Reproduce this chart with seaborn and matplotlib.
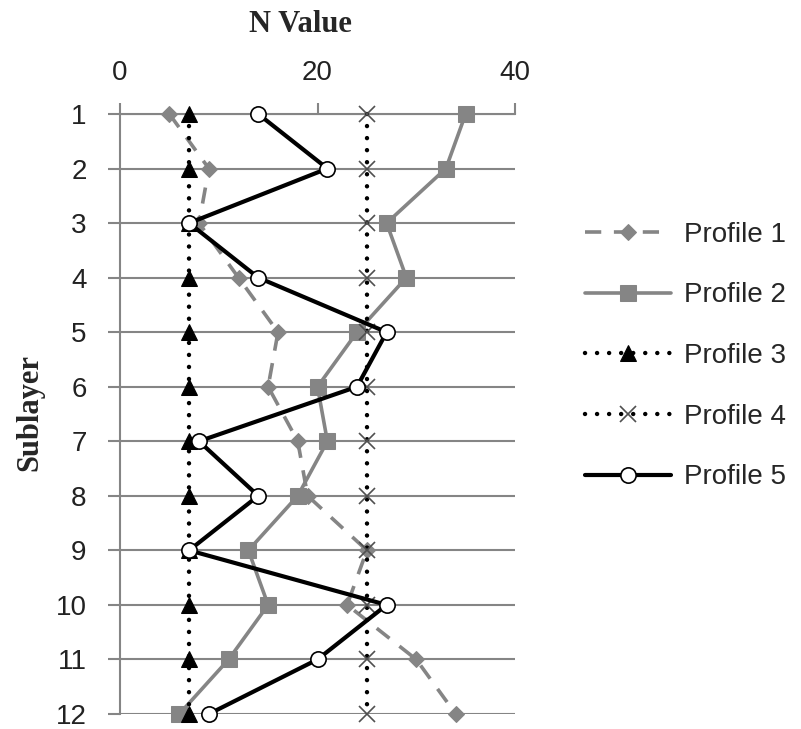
import matplotlib
matplotlib.use("Agg")
import matplotlib.pyplot as plt
import seaborn as sns

sublayers = [1, 2, 3, 4, 5, 6, 7, 8, 9, 10, 11, 12]
profile_1 = [5, 9, 8, 12, 16, 15, 18, 19, 25, 23, 30, 34]
profile_2 = [35, 33, 27, 29, 24, 20, 21, 18, 13, 15, 11, 6]
profile_3 = [7, 7, 7, 7, 7, 7, 7, 7, 7, 7, 7, 7]
profile_4 = [25, 25, 25, 25, 25, 25, 25, 25, 25, 25, 25, 25]
profile_5 = [14, 21, 7, 14, 27, 24, 8, 14, 7, 27, 20, 9]
labels = ["Profile 1", "Profile 2", "Profile 3", "Profile 4", "Profile 5"]
x_ticks = [0, 20, 40]

sns.set_style("white")
plt.rcParams["font.family"] = ["Liberation Sans", "DejaVu Sans"]

W, H = 801, 729
fig = plt.figure(figsize=(W / 100, H / 100), dpi=100)
ax = fig.add_axes([120 / W, 1 - 714 / H, (515 - 120) / W, (714 - 114) / H])

grey = "#858585"
common = dict(orient="y", estimator=None, sort=False, ax=ax, clip_on=False)
dotted = (0, (0.01, 2.7))

sns.lineplot(x=profile_1, y=sublayers, label=labels[0], color=grey, lw=2.6,
             linestyle=(0, (4.5, 3.5)), marker="D", markersize=8,
             markeredgecolor=grey, markerfacecolor=grey, zorder=3, **common)
sns.lineplot(x=profile_2, y=sublayers, label=labels[1], color=grey, lw=2.6,
             linestyle="-", marker="s", markersize=11,
             markeredgecolor=grey, markerfacecolor=grey, zorder=3, **common)
sns.lineplot(x=profile_3, y=sublayers, label=labels[2], color="black", lw=3.2,
             linestyle=dotted, dash_capstyle="round", marker="^",
             markersize=11, markeredgecolor="black", markerfacecolor="black",
             zorder=4, **common)
sns.lineplot(x=profile_4, y=sublayers, label=labels[3], color="black", lw=3.2,
             linestyle=dotted, dash_capstyle="round", marker="x",
             markersize=12, markeredgecolor="#505050", markeredgewidth=1.2,
             zorder=4, **common)
sns.lineplot(x=profile_5, y=sublayers, label=labels[4], color="black", lw=3,
             linestyle="-", marker="o", markersize=11,
             markeredgecolor="black", markerfacecolor="white",
             markeredgewidth=1.2, zorder=5, **common)

ax.set_xlim(0, 40)
ax.set_ylim(12, 1)
ax.set_xticks(x_ticks)
ax.set_xticklabels([str(t) for t in x_ticks])
ax.set_yticks(sublayers)
ax.set_yticklabels([str(s) for s in sublayers])
ax.xaxis.tick_top()
ax.xaxis.set_label_position("top")
ax.set_xlabel("")
ax.set_ylabel("")

ax.grid(axis="y", color=grey, lw=1.5)
ax.grid(axis="x", visible=False)
ax.set_axisbelow(True)
for s in ["right", "bottom"]:
    ax.spines[s].set_visible(False)
ax.spines["left"].set_color(grey)
ax.spines["left"].set_linewidth(1.5)
ax.spines["top"].set_color(grey)
ax.spines["top"].set_linewidth(1.5)

ax.tick_params(axis="y", which="major", direction="out", length=9, width=1.5,
               color=grey, left=True, pad=15, labelsize=20, labelcolor="#222222")
ax.tick_params(axis="x", which="major", direction="out", length=8, width=1.5,
               color=grey, top=True, bottom=False, pad=12, labelsize=20,
               labelcolor="#222222")

fig.text(300 / W, 1 - 25 / H, "N Value", ha="center", va="center",
         family=["Liberation Serif", "DejaVu Serif"], weight="bold", fontsize=22)
fig.text(30 / W, 1 - 412 / H, "Sublayer", ha="center", va="center", rotation=90,
         family=["Liberation Serif", "DejaVu Serif"], weight="bold", fontsize=22)

handles, labs = ax.get_legend_handles_labels()
if ax.legend_:
    ax.legend_.remove()
fig.legend(handles, labs, loc="center left",
           bbox_to_anchor=(585 / W, 1 - 356 / H), frameon=False,
           fontsize=20, handlelength=3.1, handletextpad=0.45,
           labelspacing=1.25, borderpad=0, borderaxespad=0)

fig.savefig("out.png", dpi=100)
